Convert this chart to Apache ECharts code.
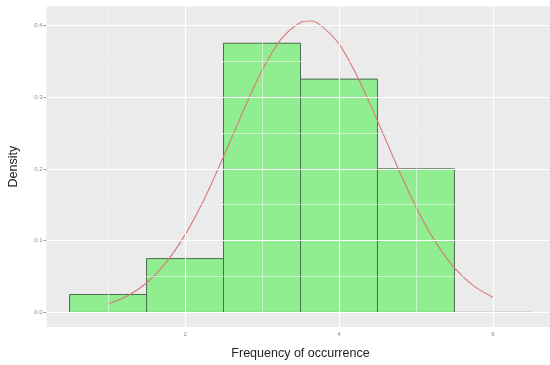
<!DOCTYPE html>
<html>
<head>
<meta charset="utf-8">
<script src="https://cdn.jsdelivr.net/npm/echarts@6/dist/echarts.min.js"></script>
<style>html,body{margin:0;padding:0;background:#fff}#c{width:550px;height:365px}</style>
</head>
<body>
<div id="c"></div>
<script>
// Histogram bins (left edge, right edge) and densities
const binStarts = [0.5, 1.5, 2.5, 3.5, 4.5, 5.5];
const binEnds   = [1.5, 2.5, 3.5, 4.5, 5.5, 6.5];
const densities = [0.025, 0.075, 0.375, 0.325, 0.2, 0];

// Density curve
const curveX = [1, 1.25, 1.5, 1.75, 2, 2.25, 2.5, 2.75, 3, 3.25, 3.5, 3.625, 3.75, 4, 4.25, 4.5, 4.75, 5, 5.25, 5.5, 5.75, 6];
const curveY = [0.012, 0.023, 0.041, 0.069, 0.108, 0.158, 0.217, 0.279, 0.337, 0.381, 0.404, 0.406, 0.401, 0.374, 0.326, 0.267, 0.205, 0.147, 0.099, 0.062, 0.037, 0.021];

// Axis ticks
const xTicks = [2, 4, 6];
const yTicks = [0, 0.1, 0.2, 0.3, 0.4];
const xMinor = [1, 3, 5];
const yMinor = [0.05, 0.15, 0.25, 0.35];

const chart = echarts.init(document.getElementById('c'));

const major = {color: '#ffffff', width: 1.1, type: 'solid'};
const minor = {color: '#f4f4f4', width: 0.6, type: 'solid'};
const gridLines = [];
xTicks.forEach(v => gridLines.push({xAxis: v, lineStyle: major}));
xMinor.forEach(v => gridLines.push({xAxis: v, lineStyle: minor}));
yTicks.forEach(v => gridLines.push({yAxis: v, lineStyle: major}));
yMinor.forEach(v => gridLines.push({yAxis: v, lineStyle: minor}));

const barData = binStarts.map((s, i) => [s, binEnds[i], densities[i]]);

chart.setOption({
  animation: false,
  backgroundColor: '#ffffff',
  grid: {left: 46.5, top: 6.4, width: 508, height: 320.6, show: true, backgroundColor: '#ebebeb', borderWidth: 0,
    containLabel: false, outerBoundsMode: 'none'},
  xAxis: {
    type: 'value', min: 0.2, max: 6.8,
    name: 'Frequency of occurrence', nameLocation: 'middle', nameGap: 20,
    nameTextStyle: {fontFamily: 'Liberation Sans', fontSize: 12.5, color: '#222'},
    axisLine: {show: false},
    axisTick: {show: true, length: 3, customValues: xTicks, lineStyle: {color: '#999'}},
    axisLabel: {customValues: xTicks, fontSize: 6, color: '#888', margin: 4, fontFamily: 'Liberation Sans'},
    splitLine: {show: false}
  },
  yAxis: {
    type: 'value', min: -0.0203, max: 0.4263,
    name: 'Density', nameLocation: 'middle', nameGap: 26, nameRotate: 90,
    nameTextStyle: {fontFamily: 'Liberation Sans', fontSize: 12.5, color: '#222'},
    axisLine: {show: false},
    axisTick: {show: true, length: 3, customValues: yTicks, lineStyle: {color: '#999'}},
    axisLabel: {customValues: yTicks, fontSize: 6, color: '#888', margin: 4, fontFamily: 'Liberation Sans',
      formatter: v => v.toFixed(1)},
    splitLine: {show: false}
  },
  series: [
    {
      type: 'line', data: [], silent: true,
      markLine: {silent: true, symbol: 'none', label: {show: false}, data: gridLines, animation: false}
    },
    {
      type: 'custom',
      data: barData,
      encode: {x: [0, 1], y: 2},
      renderItem: function (params, api) {
        const p0 = api.coord([api.value(0), 0]);
        const p1 = api.coord([api.value(1), api.value(2)]);
        return {
          type: 'rect',
          shape: {x: p0[0], y: p1[1], width: p1[0] - p0[0], height: p0[1] - p1[1]},
          style: {fill: '#90ee90', stroke: '#4d6b4d', lineWidth: 1}
        };
      }
    },
    {
      type: 'line',
      data: curveX.map((x, i) => [x, curveY[i]]),
      showSymbol: false, smooth: 0.3,
      lineStyle: {color: '#d9787a', width: 1.1}
    }
  ]
});
</script>
</body>
</html>
